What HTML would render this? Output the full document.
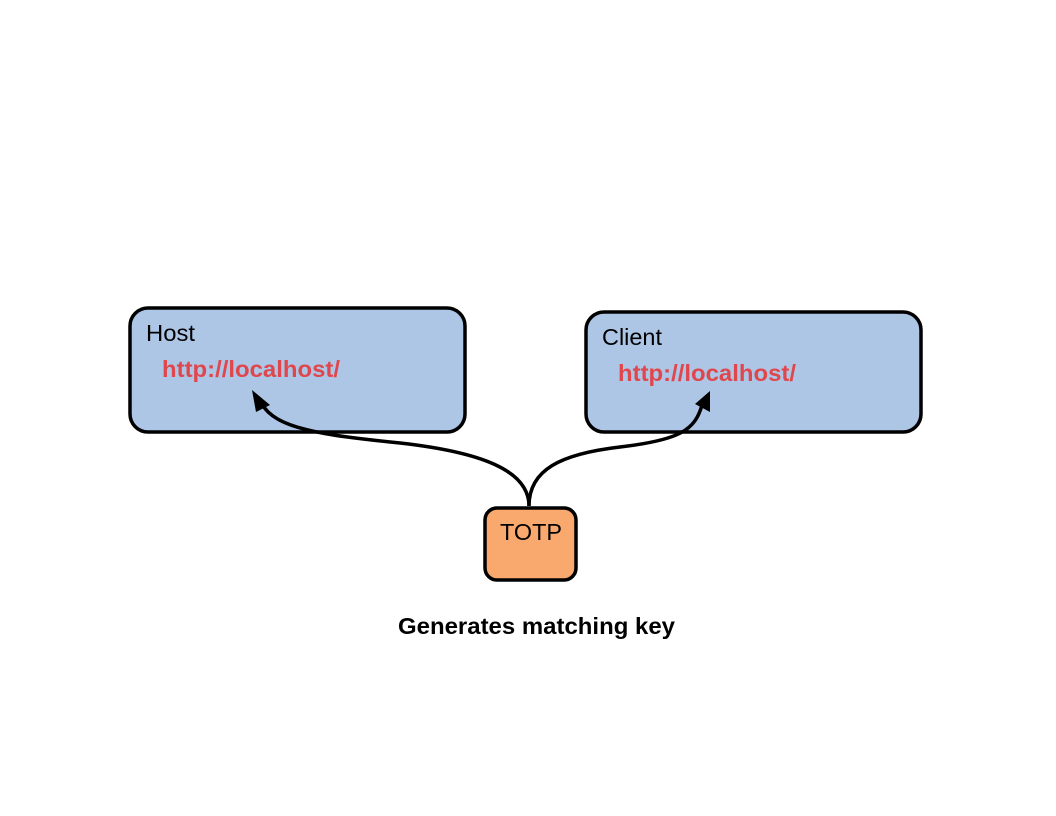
<!DOCTYPE html>
<html><head><style>
body{margin:0;background:#fff;}
svg{display:block}
</style></head><body>
<svg width="1056" height="816" viewBox="0 0 1056 816" xmlns="http://www.w3.org/2000/svg">
<rect x="130" y="308" width="335" height="124" rx="18" fill="#adc6e6" stroke="#000" stroke-width="3.5"/>
<rect x="586" y="312" width="335" height="120" rx="18" fill="#adc6e6" stroke="#000" stroke-width="3.5"/>
<rect x="485" y="508" width="91" height="72" rx="12" fill="#f9a96e" stroke="#000" stroke-width="3.5"/>
<g font-family="Liberation Sans, sans-serif">
<text x="146" y="341" font-size="23" fill="#000" textLength="49" lengthAdjust="spacingAndGlyphs">Host</text>
<text x="162" y="377" font-size="23" font-weight="bold" fill="#e0474c" textLength="178" lengthAdjust="spacingAndGlyphs">http://localhost/</text>
<text x="602" y="345" font-size="23" fill="#000" textLength="60" lengthAdjust="spacingAndGlyphs">Client</text>
<text x="618" y="381" font-size="23" font-weight="bold" fill="#e0474c" textLength="178" lengthAdjust="spacingAndGlyphs">http://localhost/</text>
<text x="500" y="540" font-size="23" fill="#000" textLength="62" lengthAdjust="spacingAndGlyphs">TOTP</text>
<text x="398" y="634" font-size="23" font-weight="bold" fill="#000" textLength="277" lengthAdjust="spacingAndGlyphs">Generates matching key</text>
</g>
<path d="M529,506 C529,470 480,452 400,443 C320,435 275,428 262,404" fill="none" stroke="#000" stroke-width="3.5"/>
<polygon points="252,390 270,405 256,412" fill="#000"/>
<path d="M529,506 C529,470 560,454 620,447 C680,440 695,430 702,405" fill="none" stroke="#000" stroke-width="3.5"/>
<polygon points="710,391 710,412 695,404" fill="#000"/>
</svg>
</body></html>
